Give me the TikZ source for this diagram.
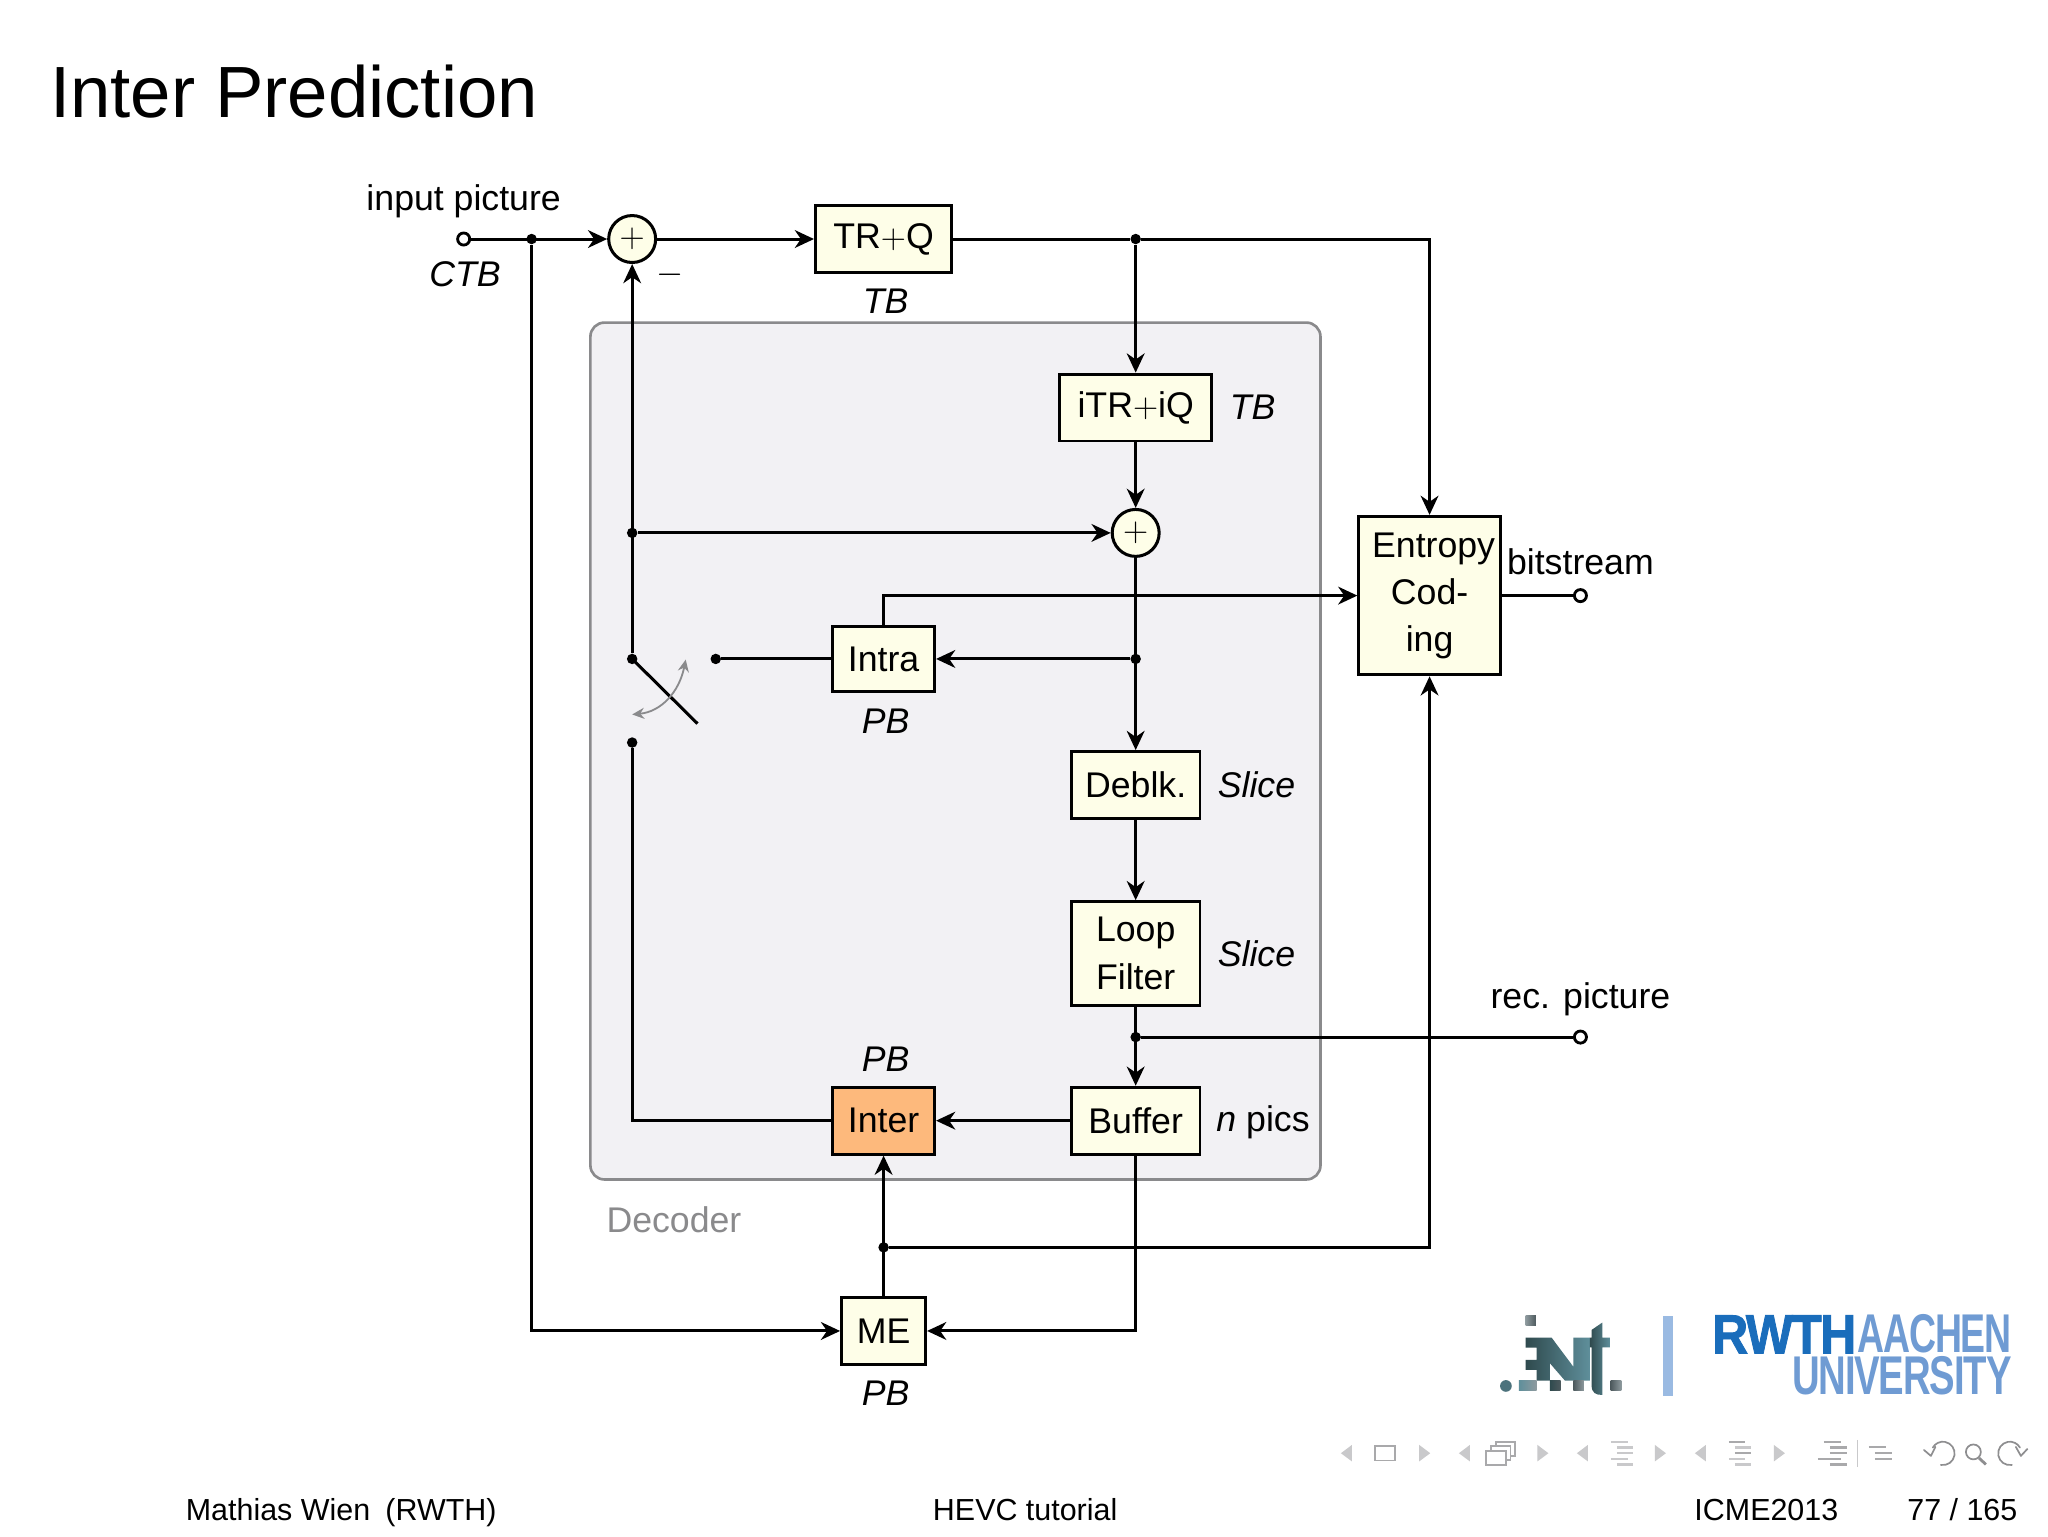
\documentclass[tikz,border=0pt]{standalone}
\usepackage{fontspec}
\usepackage{graphicx}
\setmainfont{Liberation Sans}
\newfontface\rwthheavy[FakeBold=1.6,LetterSpace=-3]{Liberation Sans Bold}
\newfontface\rwthmedium[LetterSpace=-3]{Liberation Sans Bold}
\usetikzlibrary{arrows.meta,calc}
\definecolor{boxfill}{HTML}{FEFEE8}
\definecolor{interfill}{HTML}{FDB97C}
\definecolor{decfill}{HTML}{F2F1F4}
\definecolor{decline}{HTML}{8A8A8C}
\definecolor{rwthdark}{HTML}{1A6DBB}
\definecolor{rwthlight}{HTML}{6F9BD3}
\definecolor{rwthbar}{HTML}{9ABAE2}
\definecolor{navlight}{HTML}{C9C9CB}
\definecolor{navmid}{HTML}{A9A9AB}
\definecolor{navdark}{HTML}{8E8E90}
\definecolor{logodark}{HTML}{2F4A4E}
\definecolor{logoteal}{HTML}{5F8F9B}
\definecolor{logogreyd}{HTML}{4E5A5E}
\definecolor{logogreyl}{HTML}{8E9A9E}
\tikzset{
  lbl/.style={inner sep=0pt,font=\fontsize{17.7}{23.4}\selectfont},
  ilbl/.style={lbl,font=\fontsize{17.7}{23.4}\selectfont\itshape},
  blockbox/.style={draw=black,line width=1.45pt,fill=boxfill,inner sep=0pt,align=center,
    font=\fontsize{17.7}{23.4}\selectfont},
  sumnode/.style={circle,draw=black,line width=1.5pt,fill=boxfill,inner sep=0pt,minimum size=23.3pt,
    font=\fontsize{17.7}{23.4}\selectfont},
  dotnode/.style={circle,fill=black,inner sep=0pt,minimum size=5.2pt},
  portnode/.style={circle,draw=black,line width=1.4pt,fill=white,inner sep=0pt,minimum size=6pt},
  conn/.style={draw=black,line width=1.5pt,line join=miter},
  arr/.style={conn,-{Stealth[length=9.5pt,width=8.8pt,inset=3pt]}},
  switcharr/.style={draw=decline,line width=.9pt,{Stealth[length=6pt,width=5.5pt,inset=2pt]}-{Stealth[length=6pt,width=5.5pt,inset=2pt]}},
  foot/.style={inner sep=0pt,anchor=base west,font=\fontsize{15.1}{18}\selectfont},
  navtri/.style={fill=navlight,draw=none},
  navbox/.style={draw=navmid,line width=.75pt,fill=white},
  navbar/.style={draw=navlight,line width=1.2pt},
  navbard/.style={draw=navmid,line width=1.2pt},
  navcurve/.style={draw=navdark,line width=.85pt,line cap=round,line join=round},
}
\newcommand{\navleft}[1]{\path[navtri] (#1+11,1445)--(#1+11,1461.5)--(#1,1453.3)--cycle;}
\newcommand{\navright}[1]{\path[navtri] (#1,1445)--(#1,1461.5)--(#1+11,1453.3)--cycle;}
\begin{document}
\begin{tikzpicture}[x=.64796pt,y=-.64796pt]
\useasboundingbox (0,0) rectangle (1568,1176);
\fill[white] (0,0) rectangle (1568,1176);

% title
\node[inner sep=0pt,anchor=base west,font=\fontsize{36}{40}\selectfont] (title) at (38,90) {Inter Prediction};

% decoder frame
\node[draw=decline,fill=decfill,line width=1.3pt,rounded corners=7pt,inner sep=0pt,
  minimum width=362.2pt,minimum height=425.1pt] (decoder) at (731.5,575) {};
\node[lbl,text=decline] (decoderlabel) at (516,934) {Decoder};

% blocks
\node[blockbox,minimum width=67.6pt,minimum height=33.2pt] (trq) at (676.5,183) {\raisebox{-.6pt}{TR$+$Q}};
\node[blockbox,minimum width=75.4pt,minimum height=33.2pt] (itrq) at (869.5,312) {\raisebox{-.6pt}{iTR$+$iQ}};
\node[blockbox,minimum width=70.2pt,minimum height=78.6pt] (entropy) at (1094.5,456) {\raisebox{-.6pt}{\hspace*{4pt}Entropy}\\\raisebox{-.6pt}{Cod-}\\\raisebox{-.6pt}{ing}};
\node[blockbox,minimum width=50.6pt,minimum height=32.6pt] (intra) at (676.5,504.5) {Intra};
\node[blockbox,minimum width=63.8pt,minimum height=33.2pt] (deblk) at (869.5,601) {Deblk.};
\node[blockbox,minimum width=63.8pt,minimum height=51.4pt] (loop) at (869.5,730) {Loop\\Filter};
\node[blockbox,minimum width=63.8pt,minimum height=33.2pt] (buffer) at (869.5,858) {Buffer};
\node[blockbox,fill=interfill,minimum width=50.6pt,minimum height=33.2pt] (inter) at (676.5,858) {\raisebox{-.5pt}{Inter}};
\node[blockbox,minimum width=41.7pt,minimum height=33.2pt] (me) at (676.5,1019) {ME};
\node[sumnode] (sumone) at (484,183) {$+$};
\node[sumnode] (sumtwo) at (869.5,408) {$+$};

% ports and junctions
\node[portnode] (inport) at (355,183) {};
\node[portnode] (bitport) at (1210,456) {};
\node[portnode] (recport) at (1210,794) {};
\node[dotnode] (jin) at (407,183) {};
\node[dotnode] (jtr) at (869.5,183) {};
\node[dotnode] (jfb) at (484,408) {};
\node[dotnode] (swout) at (484,504.5) {};
\node[dotnode] (swintra) at (548,504.5) {};
\node[dotnode] (swinter) at (484,568.5) {};
\node[dotnode] (jrec) at (869.5,504.5) {};
\node[dotnode] (jloop) at (869.5,794) {};
\node[dotnode] (jme) at (676.5,955) {};
\coordinate (swend) at (534,554);
\coordinate (swa) at (484,547);
\coordinate (swb) at (525,505);

% connectors
\draw[arr] (inport) -- (sumone);
\draw[arr] (sumone) -- (trq);
\draw[conn] (trq) -- (jtr);
\draw[arr] (jtr) -| (entropy.north);
\draw[arr] (jtr) -- (itrq);
\draw[arr] (itrq) -- (sumtwo);
\draw[arr] (swout) -- (sumone);
\draw[arr] (jfb) -- (sumtwo);
\draw[arr] (sumtwo) -- (deblk);
\draw[arr] (jrec) -- (intra);
\draw[conn] (intra) -- (swintra);
\draw[arr] (intra.north) |- (entropy.west);
\draw[conn] (entropy.east |- bitport) -- (bitport);
\draw[arr] (deblk) -- (loop);
\draw[arr] (loop) -- (buffer);
\draw[conn] (jloop) -- (recport);
\draw[arr] (buffer) -- (inter);
\draw[conn] (inter.west) -| (swinter);
\draw[arr] (buffer.south) |- (me.east);
\draw[arr] (jin) |- (me.west);
\draw[arr] (me.north) -- (inter.south);
\draw[arr] (jme) -| (entropy.south);
\draw[conn] (swout.center) -- (swend);
\draw[switcharr] (swa) .. controls (506,545) and (520,530) .. (swb);

% labels
\node[lbl] (linput) at (355,154) {input picture};
\node[ilbl] (lctb) at (356,210) {CTB};
\node[lbl] (lminus) at (513,210) {$-$};
\node[ilbl] (ltbone) at (678,231) {TB};
\node[ilbl] (ltbtwo) at (959,312) {TB};
\node[lbl] (lbit) at (1210,430) {bitstream};
\node[ilbl] (lpbintra) at (678,552) {PB};
\node[ilbl] (lsliceone) at (962,601) {Slice};
\node[ilbl] (lslicetwo) at (962,730) {Slice};
\node[lbl] (lrec) at (1210,765) {rec. picture};
\node[ilbl] (lpbinter) at (678,811) {PB};
\node[lbl] (lnpics) at (967,859) {\textit{n} pics};
\node[ilbl] (lpbme) at (678,1067) {PB};

% footer
\node[foot] (fauthor) at (142,1164) {Mathias Wien\hspace{.5em}(RWTH)};
\node[foot] (ftitle) at (714,1164) {HEVC tutorial};
\node[foot] (fconf) at (1297,1164) {ICME2013};
\node[foot] (fpage) at (1460,1164) {77 / 165};

% university logo text and navigation, in pixels of the 2048 wide frame
\begin{scope}[x=.49607pt,y=-.49607pt]
  \fill[rwthbar] (1663.3,1316) rectangle (1673,1396);
  \node[inner sep=0pt,anchor=south west,text=rwthdark] (rwth) at (1712,1354)
    {\resizebox{71.4pt}{18.9pt}{\rwthheavy RWTH}};
  \node[inner sep=0pt,anchor=south west,text=rwthlight] (aachen) at (1857,1354)
    {\resizebox{76.6pt}{18.9pt}{\rwthmedium AACHEN}};
  \node[inner sep=0pt,anchor=south west,text=rwthlight] (univ) at (1791.7,1396)
    {\resizebox{108.9pt}{18.9pt}{\rwthmedium UNIVERSITY}};

  \navleft{1341}
  \draw[navbox] (1375,1446) rectangle (1395,1460.5);
  \navright{1419.3}
  \navleft{1459}
  \draw[navbox] (1496,1442) rectangle (1515,1456);
  \draw[navbox] (1491,1446) rectangle (1510.5,1460);
  \draw[navbox] (1486,1451) rectangle (1506,1465);
  \navright{1537.5}
  \navleft{1577}
  \foreach \a/\b/\yy in {1611/1628/1442,1617/1633/1447.5,1617/1633/1453.3,1611/1628/1459,1617/1633/1464.5}
    \draw[navbar] (\a,\yy) -- (\b,\yy);
  \navright{1655}
  \navleft{1695}
  \draw[navbard] (1729,1442) -- (1745,1442);
  \draw[navbar] (1735,1447.5) -- (1751,1447.5);
  \draw[navbard] (1735,1453.3) -- (1751,1453.3);
  \draw[navbar] (1729,1459) -- (1745,1459);
  \draw[navbar] (1735,1464.5) -- (1751,1464.5);
  \navright{1774}
  \draw[navbard] (1824,1442) -- (1841,1442);
  \draw[navbard] (1830,1447.5) -- (1847,1447.5);
  \draw[navbard] (1830,1453.3) -- (1847,1453.3);
  \draw[navbard] (1818,1459) -- (1841,1459);
  \draw[navbard] (1830,1464.5) -- (1847,1464.5);
  \draw[navlight,line width=.7pt] (1857.5,1440) -- (1857.5,1467);
  \draw[navbard] (1869,1447) -- (1886,1447);
  \draw[navbard] (1875,1453) -- (1892,1453);
  \draw[navbard] (1875,1459) -- (1892,1459);
  % undo, find, redo
  \draw[navcurve] (1941,1465) arc[start angle=-100,end angle=150,radius=5.8pt];
  \draw[navcurve] (1924,1450) -- (1931,1456) -- (1935.5,1447);
  \draw[navcurve] (1973.5,1452) circle[radius=3.7pt];
  \draw[navdark,line width=1.4pt] (1979,1458) -- (1986,1464.5);
  \draw[navcurve] (2012,1465) arc[start angle=280,end angle=30,radius=5.8pt];
  \draw[navcurve] (2027.5,1449) -- (2021,1456) -- (2016,1447);
\end{scope}

% institute logo shapes, in 3x zoom units from the crop at (1490,1310)
\begin{scope}[shift={(739.14pt,-649.85pt)},x=.16536pt,y=-.16536pt]
  \shade[left color=logogreyl,right color=logogreyd] (107,17) rectangle (138,48);
  \shade[left color=logodark,right color=logoteal]
    (107,83) -- (185,83) -- (250,170) -- (250,83) -- (300,83) -- (300,212) -- (225,212)
    -- (180,160) -- (180,212) -- (140,212) -- (140,180) -- (107,180) -- (107,150)
    -- (140,150) -- (140,113) -- (107,113) -- cycle;
  \shade[left color=logodark,right color=logoteal]
    (300,83) -- (305,83) -- (305,60) -- (337,38) -- (337,83) -- (360,83) -- (360,112)
    -- (337,112) -- (337,255) .. controls (318,255) and (305,250) .. (305,225)
    -- (305,112) -- (300,112) -- cycle;
  \fill[logoteal!80!black] (48,228) circle[radius=2.9pt];
  \shade[left color=logoteal,right color=logogreyl] (87,212) rectangle (140,243);
  \shade[left color=logodark,right color=logogreyd] (180,212) rectangle (212,243);
  \shade[left color=logogreyd,right color=logogreyl] (250,212) rectangle (282,243);
  \shade[left color=logogreyd,right color=logogreyl] (362,212) rectangle (394,243);
\end{scope}
\end{tikzpicture}
\end{document}
